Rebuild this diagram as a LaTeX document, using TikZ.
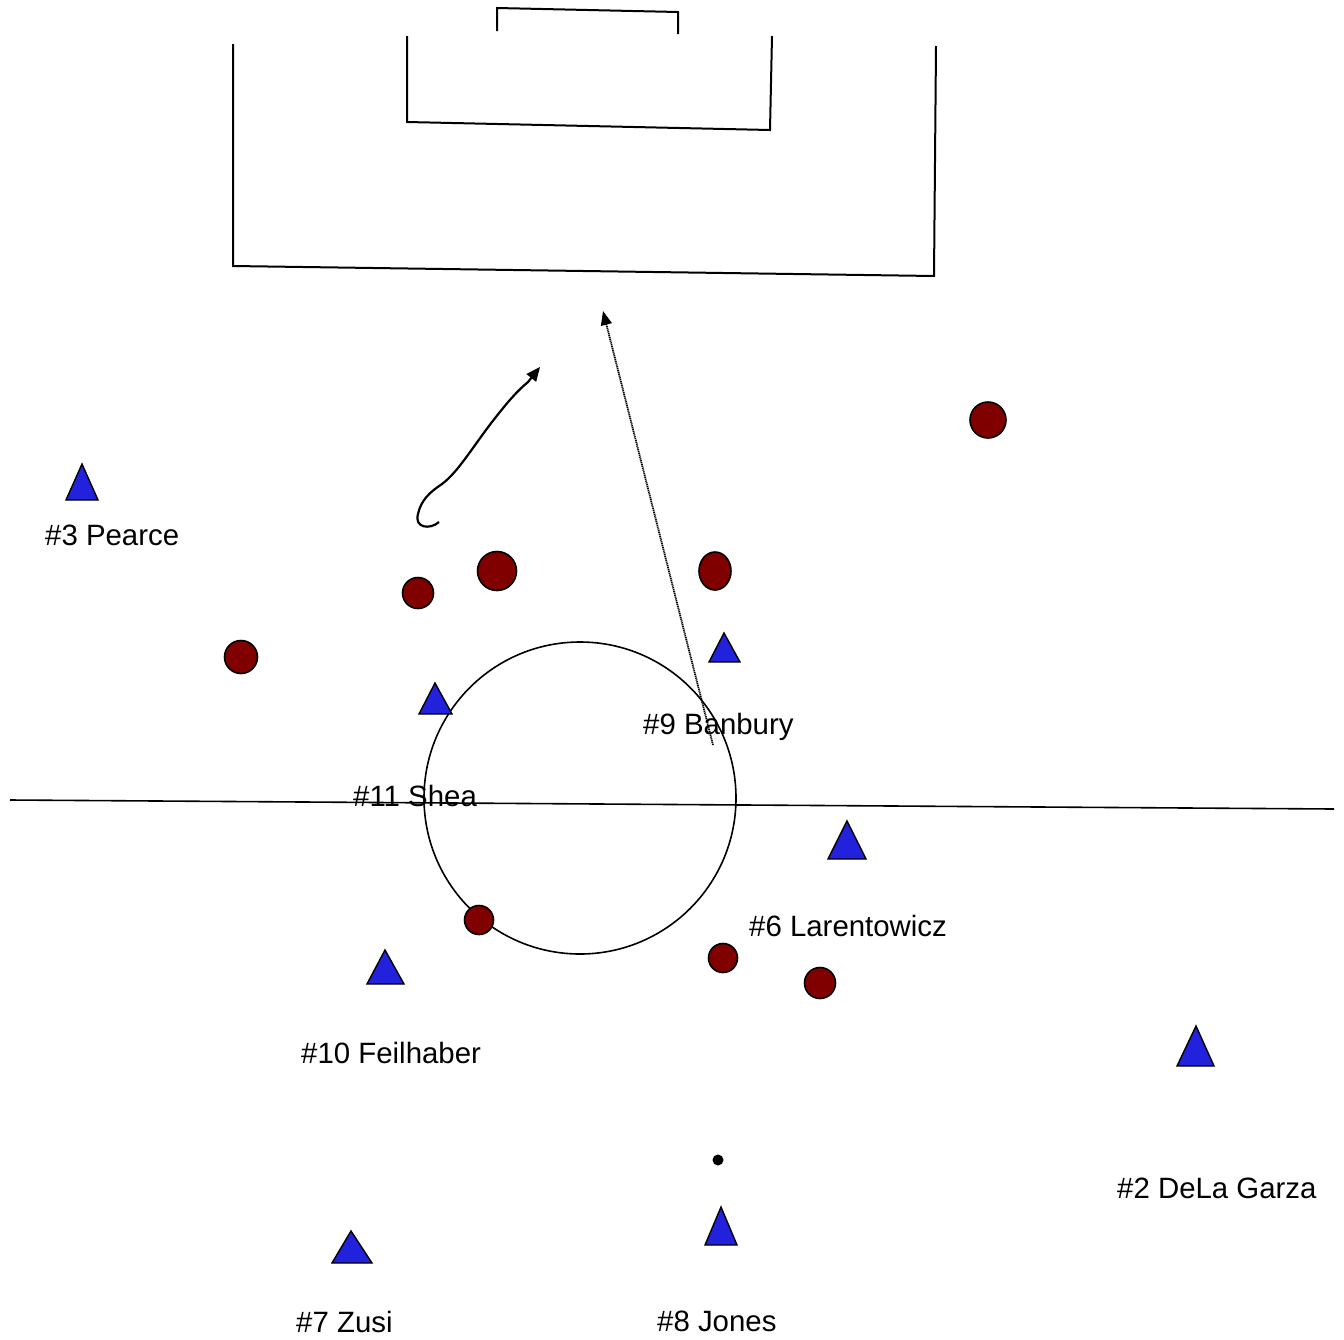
\documentclass[tikz,border=0pt]{standalone}
\usepackage{fontspec}
\setmainfont{Liberation Sans}
\usetikzlibrary{arrows.meta,shapes.geometric}
\definecolor{teamblue}{HTML}{2222DD}
\definecolor{oppred}{HTML}{800000}
\tikzset{
  fieldline/.style={line width=2pt, black},
  tri/.style={fill=teamblue, draw=black, line width=1.4pt, line join=miter},
  opp/.style={circle, fill=oppred, draw=black, line width=1.6pt, inner sep=0pt},
  oppell/.style={ellipse, fill=oppred, draw=black, line width=1.6pt, inner sep=0pt},
  lbl/.style={anchor=base west, inner sep=0pt, font=\fontsize{29.4}{34}\selectfont},
  runarrow/.style={line width=2.2pt, -{Triangle[length=14pt,width=12pt]}},
  passarrow/.style={line width=1.8pt, dash pattern=on 1.2pt off 0.7pt, -{Triangle[length=14pt,width=11pt]}}
}
\begin{document}
\begin{tikzpicture}[x=1pt,y=-1pt]
\useasboundingbox (0,0) rectangle (1344,1339);
% goal
\draw[fieldline] (497,31) -- (497,8) -- (678,12) -- (678,34);
% six-yard box
\draw[fieldline] (407,36) -- (407,122) -- (770,130) -- (772,36);
% penalty box
\draw[fieldline] (233,44) -- (233,266) -- (934,276) -- (936,46);
% halfway line and centre circle
\draw[line width=1.6pt] (10,800) -- (1334,809);
\node[circle, draw=black, line width=1.6pt, minimum size=312pt, inner sep=0pt] (cc) at (580,798) {};
% opponents
\node[opp, minimum size=36pt] (o1) at (988,420) {};
\node[opp, minimum size=39pt] (o2) at (497,571) {};
\node[oppell, minimum width=32pt, minimum height=38pt] (o3) at (715,571) {};
\node[opp, minimum size=31pt] (o4) at (418,593) {};
\node[opp, minimum size=33pt] (o5) at (241,657) {};
\node[opp, minimum size=29pt] (o6) at (479,920) {};
\node[opp, minimum size=29pt] (o7) at (723,958) {};
\node[opp, minimum size=31pt] (o8) at (820,983) {};
% team triangles
\draw[tri] (82,464) -- (98,500) -- (66,500) -- cycle;
\draw[tri] (435,683) -- (452,714) -- (419,714) -- cycle;
\draw[tri] (724,633) -- (740,662) -- (709,662) -- cycle;
\draw[tri] (847,821) -- (866,859) -- (828,859) -- cycle;
\draw[tri] (385,950) -- (404,984) -- (367,984) -- cycle;
\draw[tri] (1196,1026) -- (1214,1066) -- (1177,1066) -- cycle;
\draw[tri] (351,1231) -- (372,1263) -- (332,1263) -- cycle;
\draw[tri] (721,1207) -- (737,1245) -- (705,1245) -- cycle;
% ball
\node[circle, fill=black, minimum size=11pt, inner sep=0pt] (ball) at (718,1160) {};
% labels
\node[lbl] (l3) at (45,545) {\#3 Pearce};
\node[lbl] (l9) at (643,734) {\#9 Banbury};
\node[lbl] (l11) at (353,806) {\#11 Shea};
\node[lbl] (l6) at (749,936) {\#6 Larentowicz};
\node[lbl] (l10) at (301,1063) {\#10 Feilhaber};
\node[lbl] (l2) at (1117,1198) {\#2 DeLa Garza};
\node[lbl] (l7) at (296,1332) {\#7 Zusi};
\node[lbl] (l8) at (657,1331) {\#8 Jones};
% arrows
\coordinate (ps) at (713,745);
\coordinate (pe) at (603,311);
\draw[passarrow] (ps) -- (pe);
\coordinate (rs) at (439,522);
\coordinate (re) at (540,367);
\draw[runarrow] (rs) .. controls (430,530) and (414,528) .. (418,514)
  .. controls (421,500) and (430,492) .. (442,484)
  .. controls (458,472) and (472,448) .. (492,422)
  .. controls (506,404) and (516,392) .. (528,382) -- (re);
\end{tikzpicture}
\end{document}
